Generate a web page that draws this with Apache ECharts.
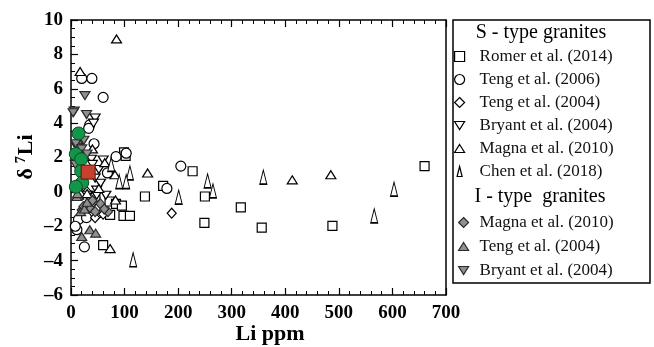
<!DOCTYPE html>
<html>
<head>
<meta charset="utf-8">
<script src="https://cdn.jsdelivr.net/npm/echarts@6/dist/echarts.min.js"></script>
<style>
  html, body { margin: 0; padding: 0; background: #fff; }
  #chart { width: 654px; height: 347px; }
</style>
</head>
<body>
<div id="chart"></div>
<script>
// Li concentration (ppm) vs δ7Li for S-type and I-type granites
const xTicks = [0, 100, 200, 300, 400, 500, 600, 700];
const yTicks = [-6, -4, -2, 0, 2, 4, 6, 8, 10];

// S-type granites: [Li ppm, δ7Li]
const romer2014 = [[99,2.3],[102,2.1],[227,1.2],[172,0.35],[138,-0.27],[250,-0.27],[72,-0.56],[84,-0.7],[95,-0.8],[73,-1.34],[98,-1.4],[110,-1.4],[317,-0.9],[249,-1.8],[356,-2.08],[488,-1.98],[60,-3.1],[660,1.5]];
const teng2006 = [[20,6.6],[39,6.6],[60,5.5],[35,3.9],[43,2.8],[84,2.05],[103,2.25],[68,1.1],[179,0.2],[205,1.5],[14,-1.6],[11,-2.2],[29,-1.5],[25,-3.2],[45,-0.3],[38,-0.9],[55,-1.2],[8,-2.0],[33,3.7]];
const teng2004S = [[188,-1.24],[45,-1.5],[60,-1.3],[30,0.0],[50,-0.9],[22,0.8]];
const bryant2004S = [[45,4.3],[42,4.0],[29,2.15],[38,1.9],[60,1.85],[45,0.8],[52,1.3],[48,0.1],[48,-0.2],[30,-0.2],[20,0.3],[55,0.5],[40,1.6],[65,-0.2],[12,2.6]];
const magna2010S = [[85,8.9],[17,7.0],[63,1.7],[82,1.0],[143,1.1],[83,-0.47],[73,-3.3],[14,-0.2],[413,0.7],[485,1.0],[40,2.5],[30,-0.1],[52,0.2]];
const chen2018 = [[110,1.1],[90,0.6],[103,0.6],[116,-3.95],[255,0.64],[265,0.06],[201,-0.31],[359,0.86],[603,0.16],[566,-1.4],[75,1.6]];

// I-type granites
const magna2010I = [[29,-0.76],[35,-0.9],[45,-1.15],[69,-1.15],[20,-1.05],[23,-0.86],[55,-0.7],[40,-0.5],[62,-1.0]];
const teng2004I = [[35,-2.2],[46,-2.4],[20,-2.6],[11,-0.27],[18,-1.15],[25,-1.0],[30,-0.6],[15,2.9],[12,-0.1]];
const bryant2004I = [[26,5.6],[6,4.7],[29,4.5],[4,4.6],[11,2.6],[9,2.8],[20,2.5],[24,3.0],[30,2.2],[8,1.6]];

// Highlighted samples
const greenSamples = [[14,3.4],[9,2.2],[19,1.9],[19,1.2],[21,0.54],[9,0.3]];
const redSamples = [[32,1.15]];

const sNames = ['Romer et al. (2014)', 'Teng et al. (2006)', 'Teng et al. (2004)', 'Bryant et al. (2004)', 'Magna et al. (2010)', 'Chen et al. (2018)'];
const iNames = ['Magna et al. (2010)', 'Teng et al. (2004)', 'Bryant et al. (2004)'];
const I_SUFFIX = ' \u00b7 I';

const SERIF = '"Liberation Serif", "Times New Roman", serif';
const UP = 'path://M5,0 L10,8 L0,8 Z';
const DOWN = 'path://M0,0 L10,0 L5,8 Z';
const NARROW = 'path://M4,0 L8,16 L0,16 Z';

function hollow(name, data, symbol, size) {
  return {
    type: 'scatter', name, data, symbol, symbolSize: size,
    itemStyle: { color: '#ffffff', borderColor: '#000000', borderWidth: 1.2, opacity: 1 },
    emphasis: { disabled: true }
  };
}
function gray(name, data, symbol, size) {
  return {
    type: 'scatter', name, data, symbol, symbolSize: size,
    itemStyle: { color: '#8f8f8f', borderColor: '#2a2a2a', borderWidth: 1.2, opacity: 1 },
    emphasis: { disabled: true }
  };
}

const series = [
  hollow(sNames[0], romer2014, 'rect', 9),
  hollow(sNames[1], teng2006, 'circle', 10),
  hollow(sNames[2], teng2004S, 'diamond', [9, 10]),
  hollow(sNames[3], bryant2004S, DOWN, [10, 8]),
  hollow(sNames[4], magna2010S, UP, [10, 8]),
  hollow(sNames[5], chen2018, NARROW, [7, 14]),
  gray(iNames[0] + I_SUFFIX, magna2010I, 'diamond', [9, 10]),
  gray(iNames[1] + I_SUFFIX, teng2004I, UP, [10, 8]),
  gray(iNames[2] + I_SUFFIX, bryant2004I, DOWN, [10, 8]),
  {
    type: 'scatter', name: 'green', data: greenSamples, symbol: 'circle', symbolSize: 13,
    itemStyle: { color: '#14964a', borderColor: '#0b4a24', borderWidth: 1, opacity: 1 },
    emphasis: { disabled: true }
  },
  {
    type: 'scatter', name: 'red', data: redSamples, symbol: 'rect', symbolSize: 14,
    itemStyle: { color: '#c8412f', borderColor: '#4a1a10', borderWidth: 1, opacity: 1 },
    emphasis: { disabled: true }
  }
];

const tickLabelStyle = { fontFamily: SERIF, fontWeight: 'bold', fontSize: 19, color: '#000' };
const axisLine = { show: true, onZero: false, lineStyle: { color: '#000', width: 1.5 } };

const chart = echarts.init(document.getElementById('chart'), null, { renderer: 'canvas' });
chart.setOption({
  animation: false,
  backgroundColor: '#ffffff',
  grid: { left: 71, right: 208, top: 20, bottom: 52, containLabel: false, outerBoundsMode: 'none' },
  xAxis: [
    {
      type: 'value', min: xTicks[0], max: xTicks[xTicks.length - 1], interval: 100,
      position: 'bottom',
      axisLine, splitLine: { show: false },
      axisTick: { show: true, inside: true, length: 7, lineStyle: { color: '#000', width: 1.2 } },
      minorTick: { show: true, splitNumber: 5, length: 4, lineStyle: { color: '#000', width: 1 } },
      axisLabel: Object.assign({ margin: 9 }, tickLabelStyle)
    },
    {
      type: 'value', min: xTicks[0], max: xTicks[xTicks.length - 1], interval: 100,
      position: 'top',
      axisLine, splitLine: { show: false },
      axisTick: { show: true, inside: true, length: 7, lineStyle: { color: '#000', width: 1.2 } },
      minorTick: { show: true, splitNumber: 5, length: 4, lineStyle: { color: '#000', width: 1 } },
      axisLabel: { show: false }
    }
  ],
  yAxis: [
    {
      type: 'value', min: yTicks[0], max: yTicks[yTicks.length - 1], interval: 2,
      position: 'left',
      axisLine, splitLine: { show: false },
      axisTick: { show: true, inside: true, length: 7, lineStyle: { color: '#000', width: 1.2 } },
      minorTick: { show: true, splitNumber: 4, length: 4, lineStyle: { color: '#000', width: 1 } },
      axisLabel: Object.assign({
        margin: 8,
        formatter: v => (v < 0 ? '\u2013' + Math.abs(v) : String(v))
      }, tickLabelStyle)
    },
    {
      type: 'value', min: yTicks[0], max: yTicks[yTicks.length - 1], interval: 2,
      position: 'right',
      axisLine, splitLine: { show: false },
      axisTick: { show: false }, axisLabel: { show: false }
    }
  ],
  legend: [
    {
      data: sNames, orient: 'vertical', left: 454, top: 48, padding: 0,
      itemWidth: 10, itemHeight: 10, itemGap: 6, selectedMode: false,
      itemStyle: { borderWidth: 1.2, borderColor: 'inherit' },
      textStyle: { fontFamily: SERIF, fontSize: 17, color: '#111', padding: [0, 0, 0, 10] }
    },
    {
      data: iNames.map(n => n + I_SUFFIX), orient: 'vertical', left: 458, top: 214, padding: 0,
      itemWidth: 10, itemHeight: 10, itemGap: 7, selectedMode: false,
      itemStyle: { borderWidth: 1.2, borderColor: 'inherit' },
      formatter: n => n.replace(I_SUFFIX, ''),
      textStyle: { fontFamily: SERIF, fontSize: 17, color: '#111', padding: [0, 0, 0, 6] }
    }
  ],
  graphic: [
    {
      type: 'rect', shape: { x: 453, y: 20, width: 197, height: 263 },
      style: { fill: 'none', stroke: '#000', lineWidth: 1.5 }, silent: true
    },
    {
      type: 'text', x: 541, y: 33,
      style: { text: 'S - type granites', fontFamily: SERIF, fontSize: 20, fill: '#000', align: 'center', verticalAlign: 'middle' },
      silent: true
    },
    {
      type: 'text', x: 540, y: 197,
      style: { text: 'I - type  granites', fontFamily: SERIF, fontSize: 20, fill: '#000', align: 'center', verticalAlign: 'middle' },
      silent: true
    },
    // axis titles
    {
      type: 'text', x: 270, y: 334,
      style: { text: 'Li ppm', fontFamily: SERIF, fontWeight: 'bold', fontSize: 22, fill: '#000', align: 'center', verticalAlign: 'middle' },
      silent: true
    },
    {
      type: 'text', x: 26, y: 157, rotation: Math.PI / 2,
      style: {
        text: '{a|\u03b4}{s|7}{a|Li}', align: 'center', verticalAlign: 'middle',
        rich: {
          a: { fontFamily: SERIF, fontWeight: 'bold', fontSize: 22, fill: '#000' },
          s: { fontFamily: SERIF, fontWeight: 'bold', fontSize: 14, fill: '#000', padding: [0, 1, 10, 5] }
        }
      },
      silent: true
    }
  ],
  series
});
</script>
</body>
</html>
